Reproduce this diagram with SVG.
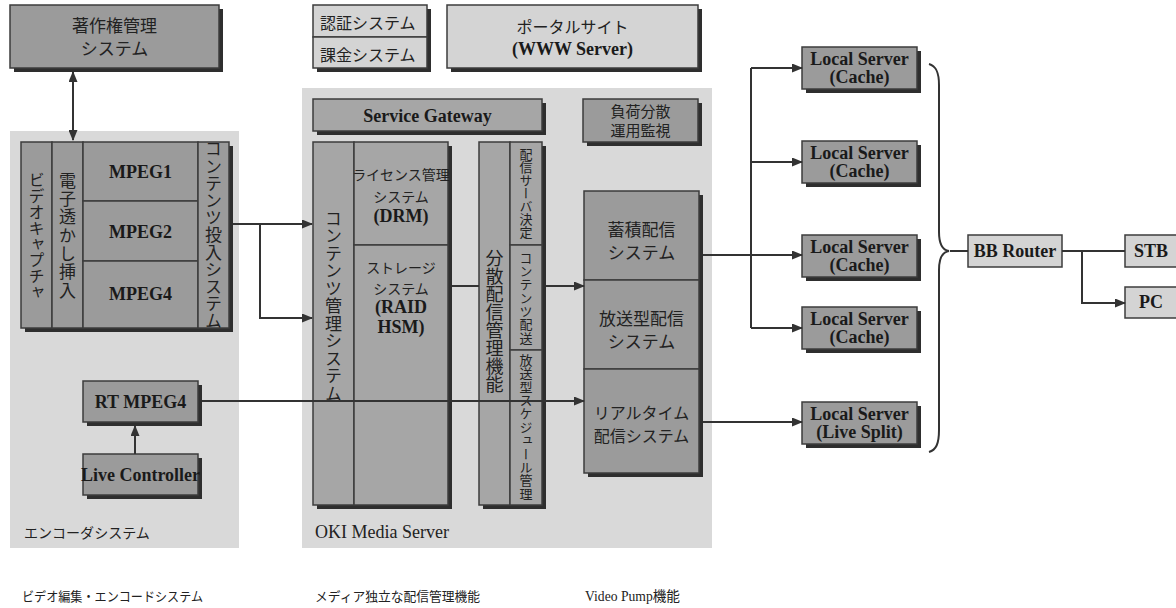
<svg xmlns="http://www.w3.org/2000/svg" width="1176" height="608" viewBox="0 0 1176 608">
<style>
.bg{fill:#d9d9d9}
.dk{fill:#9b9b9b;stroke:#3c3c3c;stroke-width:1.5}
.md{fill:#a6a6a6;stroke:#3c3c3c;stroke-width:1.5}
.lt{fill:#d4d4d4;stroke:#3c3c3c;stroke-width:1.5}
.sh{fill:#2e2e2e}
.jp{font-family:"Noto Sans CJK JP",sans-serif;fill:#222}
.en{font-family:"Liberation Serif","Noto Sans CJK JP",serif;font-weight:bold;fill:#1a1a1a;font-size:18px}
.rg{font-family:"Liberation Serif","Noto Sans CJK JP",serif;fill:#222}
.v{writing-mode:vertical-rl}
.c{text-anchor:middle}
.ln{stroke:#333;stroke-width:2;fill:none}
</style>
<defs>
<marker id="ah" markerUnits="userSpaceOnUse" markerWidth="11" markerHeight="9" refX="10" refY="4.5" orient="auto-start-reverse">
<path d="M0,0 L11,4.5 L0,9 z" fill="#333"/>
</marker>
</defs>

<!-- background areas -->
<rect class="bg" x="10" y="131" width="229" height="417"/>
<rect class="bg" x="302" y="88" width="410" height="460"/>
<text class="jp" x="24" y="538" font-size="14">エンコーダシステム</text>
<text class="rg" x="315" y="538" font-size="18">OKI Media Server</text>

<g id="copyright">
<rect class="sh" x="14" y="9" width="209" height="63"/>
<rect class="dk" x="10" y="5" width="209" height="63"/>
<text class="jp c" x="114.5" y="32" font-size="17">著作権管理</text>
<text class="jp c" x="114.5" y="55" font-size="17">システム</text>
</g>

<g id="auth-billing">
<rect class="sh" x="317" y="9" width="114" height="63"/>
<rect class="lt" x="313" y="5" width="114" height="32"/>
<rect class="lt" x="313" y="37" width="114" height="31"/>
<text class="jp" x="320" y="29" font-size="16">認証システム</text>
<text class="jp" x="320" y="61" font-size="16">課金システム</text>
</g>

<g id="portal">
<rect class="sh" x="451" y="9" width="251" height="63"/>
<rect class="lt" x="447" y="5" width="251" height="63"/>
<text class="jp c" x="572.5" y="33" font-size="16">ポータルサイト</text>
<text class="en c" x="572.5" y="55">(WWW Server)</text>
</g>

<g id="encoder">
<rect class="sh" x="25" y="146" width="208" height="186"/>
<rect class="dk" x="21" y="142" width="31" height="186"/>
<rect class="dk" x="52" y="142" width="31" height="186"/>
<rect class="dk" x="83" y="142" width="115" height="59"/>
<rect class="dk" x="83" y="201" width="115" height="60"/>
<rect class="dk" x="83" y="261" width="115" height="67"/>
<rect class="dk" x="198" y="142" width="31" height="186"/>
<text class="jp v c" x="36.5" y="236" font-size="16">ビデオキャプチャ</text>
<text class="jp v c" x="67.5" y="236" font-size="17" letter-spacing="1.3">電子透かし挿入</text>
<text class="en c" x="140.5" y="178">MPEG1</text>
<text class="en c" x="140.5" y="238">MPEG2</text>
<text class="en c" x="140.5" y="300">MPEG4</text>
<text class="jp v c" x="213.5" y="235" font-size="17" letter-spacing="0.2">コンテンツ投入システム</text>
</g>

<g id="rt-mpeg4">
<rect class="sh" x="87" y="385" width="115" height="41"/>
<rect class="dk" x="83" y="381" width="115" height="41"/>
<text class="en c" x="140.5" y="408">RT MPEG4</text>
</g>

<g id="live-controller">
<rect class="sh" x="87" y="458" width="115" height="41"/>
<rect class="dk" x="83" y="454" width="115" height="41"/>
<text class="en c" x="140.5" y="481" font-size="16.5">Live Controller</text>
</g>

<g id="service-gateway">
<rect class="sh" x="317" y="103" width="229" height="32"/>
<rect class="md" x="313" y="99" width="229" height="32"/>
<text class="en c" x="427.5" y="122">Service Gateway</text>
</g>

<g id="load-balance">
<rect class="sh" x="587" y="103" width="115" height="43"/>
<rect class="dk" x="583" y="99" width="115" height="43"/>
<text class="jp c" x="640.5" y="117" font-size="15">負荷分散</text>
<text class="jp c" x="640.5" y="136" font-size="15">運用監視</text>
</g>

<g id="content-mgmt">
<rect class="sh" x="317" y="146" width="135" height="363"/>
<rect class="md" x="313" y="142" width="41" height="363"/>
<rect class="md" x="354" y="142" width="94" height="103"/>
<rect class="md" x="354" y="245" width="94" height="260"/>
<text class="jp v c" x="333.5" y="306" font-size="17" letter-spacing="0.5">コンテンツ管理システム</text>
<text class="jp c" x="401" y="180" font-size="14">ライセンス管理</text>
<text class="jp c" x="401" y="202" font-size="14">システム</text>
<text class="en c" x="401" y="222" font-size="16">(DRM)</text>
<text class="jp c" x="401" y="273" font-size="14">ストレージ</text>
<text class="jp c" x="401" y="294" font-size="14">システム</text>
<text class="en c" x="401" y="313" font-size="16">(RAID</text>
<text class="en c" x="401" y="333" font-size="16">HSM)</text>
</g>

<g id="distribution-mgmt">
<rect class="sh" x="483" y="146" width="63" height="363"/>
<rect class="md" x="479" y="142" width="31" height="363"/>
<rect class="md" x="510" y="142" width="32" height="103"/>
<rect class="md" x="510" y="245" width="32" height="105"/>
<rect class="md" x="510" y="350" width="32" height="155"/>
<text class="jp v c" x="494.5" y="321" font-size="18">分散配信管理機能</text>
<text class="jp v c" x="526" y="193" font-size="13">配信サーバ決定</text>
<text class="jp v c" x="526" y="298" font-size="13" letter-spacing="0.3">コンテンツ配送</text>
<text class="jp v c" x="526" y="427" font-size="13" letter-spacing="0.4">放送型スケジュール管理</text>
</g>

<g id="video-pump">
<rect class="sh" x="588" y="195" width="115" height="282"/>
<rect class="dk" x="584" y="191" width="115" height="89"/>
<rect class="dk" x="584" y="280" width="115" height="89"/>
<rect class="dk" x="584" y="369" width="115" height="104"/>
<text class="jp c" x="641.5" y="236" font-size="17">蓄積配信</text>
<text class="jp c" x="641.5" y="259" font-size="17">システム</text>
<text class="jp c" x="641.5" y="325" font-size="17">放送型配信</text>
<text class="jp c" x="641.5" y="348" font-size="17">システム</text>
<text class="jp c" x="641.5" y="419" font-size="16">リアルタイム</text>
<text class="jp c" x="641.5" y="442" font-size="16">配信システム</text>
</g>

<g id="local-server-1">
<rect class="sh" x="806" y="51" width="115" height="42"/>
<rect class="dk" x="802" y="47" width="115" height="42"/>
<text class="en c" x="859.5" y="65">Local Server</text>
<text class="en c" x="859.5" y="83">(Cache)</text>
</g>
<g id="local-server-2">
<rect class="sh" x="806" y="145" width="115" height="42"/>
<rect class="dk" x="802" y="141" width="115" height="42"/>
<text class="en c" x="859.5" y="159">Local Server</text>
<text class="en c" x="859.5" y="177">(Cache)</text>
</g>
<g id="local-server-3">
<rect class="sh" x="806" y="239" width="115" height="42"/>
<rect class="dk" x="802" y="235" width="115" height="42"/>
<text class="en c" x="859.5" y="253">Local Server</text>
<text class="en c" x="859.5" y="271">(Cache)</text>
</g>
<g id="local-server-4">
<rect class="sh" x="806" y="311" width="115" height="42"/>
<rect class="dk" x="802" y="307" width="115" height="42"/>
<text class="en c" x="859.5" y="325">Local Server</text>
<text class="en c" x="859.5" y="343">(Cache)</text>
</g>
<g id="local-server-live">
<rect class="sh" x="806" y="406" width="115" height="42"/>
<rect class="dk" x="802" y="402" width="115" height="42"/>
<text class="en c" x="859.5" y="420">Local Server</text>
<text class="en c" x="859.5" y="438">(Live Split)</text>
</g>

<g id="bb-router">
<rect class="lt" x="968" y="235" width="94" height="32"/>
<text class="en c" x="1015" y="257">BB Router</text>
</g>
<g id="stb">
<rect class="lt" x="1125" y="235" width="60" height="32"/>
<text class="en c" x="1151" y="257">STB</text>
</g>
<g id="pc">
<rect class="lt" x="1125" y="287" width="60" height="31"/>
<text class="en c" x="1151" y="308">PC</text>
</g>

<g id="connectors">
<path class="ln" d="M73,72 V140" marker-start="url(#ah)" marker-end="url(#ah)"/>
<path class="ln" d="M233,224 H312" marker-end="url(#ah)"/>
<path class="ln" d="M260,224 V318 H312" marker-end="url(#ah)"/>
<path class="ln" d="M452,286 H479"/>
<path class="ln" d="M546,286 H584" marker-end="url(#ah)"/>
<path class="ln" d="M202,401 H584" marker-end="url(#ah)"/>
<path class="ln" d="M135,454 V426" marker-end="url(#ah)"/>
<path class="ln" d="M703,255 H751"/>
<path class="ln" d="M751,68 V328"/>
<path class="ln" d="M751,68 H802" marker-end="url(#ah)"/>
<path class="ln" d="M751,162 H802" marker-end="url(#ah)"/>
<path class="ln" d="M751,255 H802" marker-end="url(#ah)"/>
<path class="ln" d="M751,328 H802" marker-end="url(#ah)"/>
<path class="ln" d="M703,422 H802" marker-end="url(#ah)"/>
<path class="ln" d="M929,64 C936,66 939,72 939,85 V232 C939,244 942,250 949,251 C942,252 939,258 939,270 V430 C939,444 936,450 929,452"/>
<path class="ln" d="M950,251 H968"/>
<path class="ln" d="M1062,251 H1125"/>
<path class="ln" d="M1082,251 V303 H1125" marker-end="url(#ah)"/>
</g>

<text class="jp" x="22" y="601" font-size="13" textLength="181" lengthAdjust="spacingAndGlyphs">ビデオ編集・エンコードシステム</text>
<text class="jp" x="315" y="601" font-size="13" textLength="165" lengthAdjust="spacingAndGlyphs">メディア独立な配信管理機能</text>
<text class="rg" x="585" y="601" font-size="14" textLength="95" lengthAdjust="spacingAndGlyphs">Video Pump機能</text>
</svg>
